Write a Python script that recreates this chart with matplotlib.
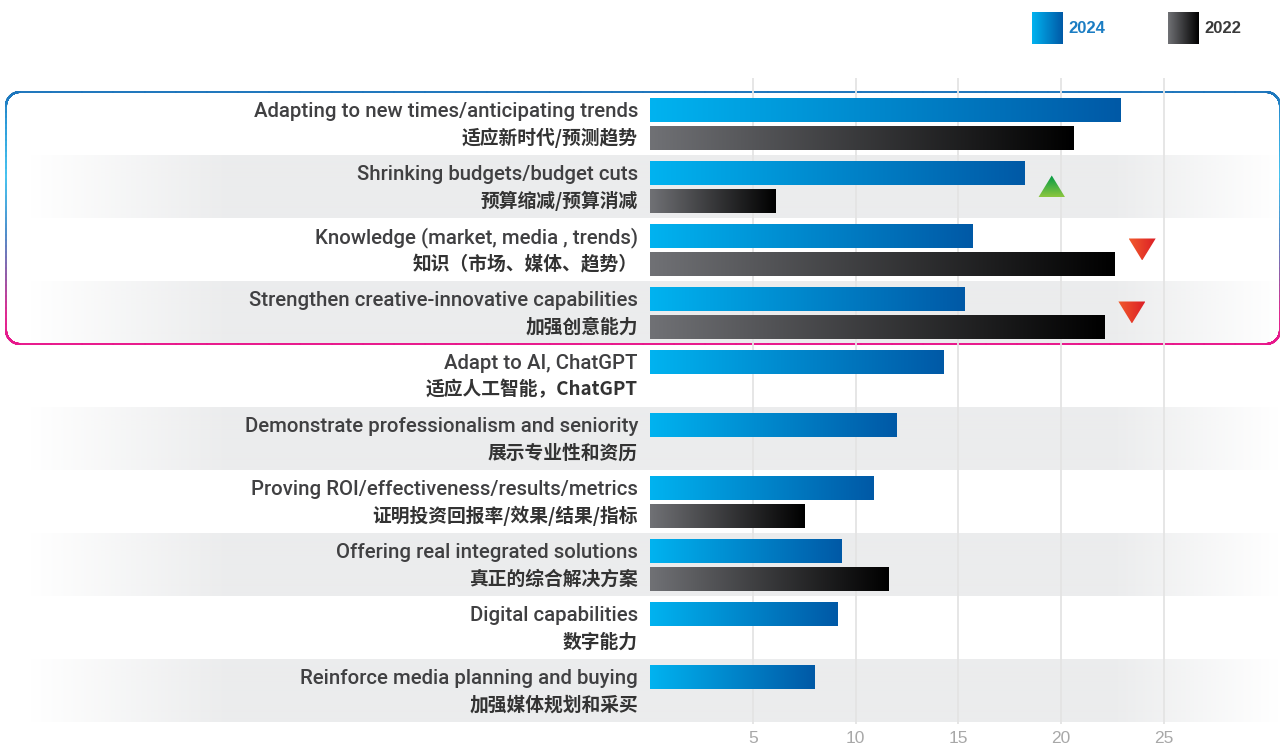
import numpy as np
import matplotlib
matplotlib.use('Agg')
import matplotlib.pyplot as plt
from matplotlib.colors import LinearSegmentedColormap, to_rgb
from matplotlib.patches import Polygon
from matplotlib.collections import LineCollection
from matplotlib.transforms import blended_transform_factory

# ---------------- data ----------------
labels_en = [
    "Adapting to new times/anticipating trends",
    "Shrinking budgets/budget cuts",
    "Knowledge (market, media , trends)",
    "Strengthen creative-innovative capabilities",
    "Adapt to AI, ChatGPT",
    "Demonstrate professionalism and seniority",
    "Proving ROI/effectiveness/results/metrics",
    "Offering real integrated solutions",
    "Digital capabilities",
    "Reinforce media planning and buying",
]
labels_zh = [
    "适应新时代/预测趋势",
    "预算缩减/预算消减",
    "知识（市场、媒体、趋势）",
    "加强创意能力",
    "适应人工智能，ChatGPT",
    "展示专业性和资历",
    "证明投资回报率/效果/结果/指标",
    "真正的综合解决方案",
    "数字能力",
    "加强媒体规划和采买",
]
v2024 = [22.9, 18.2, 15.7, 15.3, 14.3, 12.0, 10.9, 9.3, 9.1, 8.0]
v2022 = [20.6, 6.1, 22.6, 22.1, np.nan, np.nan, 7.5, 11.6, np.nan, np.nan]
series_names = ["2024", "2022"]
trend_rows = [1, 2, 3]
trend_dir = ["up", "down", "down"]
xticks = [5, 10, 15, 20, 25]

# ---------------- fonts ----------------
en_font = "Roboto"
zh_font = ["Noto Sans CJK SC", "DejaVu Sans"]

# ---------------- figure ----------------
W, H = 1280, 749
fig = plt.figure(figsize=(W / 100, H / 100), dpi=100)
fig.patch.set_facecolor("white")

n = len(labels_en)
ax_top_px, ax_bot_px = 78, 724
group_px = 63.0
first_top_px = 92
ylim = (n + (ax_bot_px - (first_top_px + n * group_px)) / group_px,
        -(first_top_px - ax_top_px) / group_px)

# background axes (full width, same vertical mapping)
bg = fig.add_axes([0, 1 - ax_bot_px / H, 1, (ax_bot_px - ax_top_px) / H], zorder=0)
bg.set_xlim(0, W)
bg.set_ylim(*ylim)
bg.axis("off")

# alternating bands with soft horizontal fades
xs = np.arange(W)
alpha_prof = np.interp(xs, [30, 230, 1110, 1278], [0, 1, 1, 0])
band_rgb = np.array(to_rgb("#ebeced"))
band_img = np.ones((1, W, 4))
band_img[..., :3] = band_rgb
band_img[..., 3] = alpha_prof
for i in range(n):
    if i % 2 == 1:
        bg.imshow(band_img, extent=(0, W, i + 1, i), aspect="auto",
                  interpolation="bilinear", zorder=1)

# highlight box around first four rows (gradient border)
box_rows = 4
x0, x1 = 6, 1280
y0, y1 = 0.0, float(box_rows)
r_px = 14
rx = r_px
ry = r_px / group_px
pts = []
def arc(cx, cy, a0, a1):
    t = np.linspace(np.radians(a0), np.radians(a1), 20)
    return list(zip(cx + rx * np.cos(t), cy - ry * np.sin(t)))
pts += [(x0 + rx, y0), (x1 - rx, y0)]
pts += arc(x1 - rx, y0 + ry, 90, 0)
pts += [(x1, y1 - ry)]
pts += arc(x1 - rx, y1 - ry, 0, -90)
pts += [(x0 + rx, y1)]
pts += arc(x0 + rx, y1 - ry, -90, -180)
pts += [(x0, y0 + ry)]
pts += arc(x0 + rx, y0 + ry, 180, 90)
pts = np.array(pts)
dense = []
for a, b in zip(pts[:-1], pts[1:]):
    for t in np.linspace(0, 1, 40, endpoint=False):
        dense.append(a + (b - a) * t)
dense.append(pts[-1])
dense = np.array(dense)
segs = np.stack([dense[:-1], dense[1:]], axis=1)
border_cmap = LinearSegmentedColormap.from_list(
    "border", [(0, "#1c75bc"), (0.12, "#2a9ad8"), (0.33, "#45c3f0"),
               (0.55, "#4a8fcb"), (0.72, "#8f5ca8"), (0.88, "#e0268f"), (1, "#e8168b")])
yc = (segs[:, 0, 1] + segs[:, 1, 1]) / 2 / box_rows
lc = LineCollection(segs, colors=border_cmap(yc), linewidths=1.4, zorder=3,
                    capstyle="round")
bg.add_collection(lc)

# ---------------- main axes ----------------
px_per_unit = 20.55
ax = fig.add_axes([650 / W, 1 - ax_bot_px / H, (W - 650) / W,
                   (ax_bot_px - ax_top_px) / H], zorder=2)
ax.patch.set_visible(False)
xlim = (0, (W - 650) / px_per_unit)

ypos = np.arange(n)
bar_h = 24 / group_px
off24 = (6 + 12) / group_px
off22 = (34 + 12) / group_px
cmap24 = LinearSegmentedColormap.from_list("c24", ["#00b3f0", "#0059a6"])
cmap22 = LinearSegmentedColormap.from_list("c22", ["#707175", "#000000"])
grad = np.linspace(0, 1, 256).reshape(1, -1)

bars24 = ax.barh(ypos + off24, v2024, height=bar_h, color="none", zorder=3)
bars22 = ax.barh(ypos + off22, np.nan_to_num(v2022), height=bar_h, color="none", zorder=3)
for bars, cm in ((bars24, cmap24), (bars22, cmap22)):
    for b in bars:
        w = b.get_width()
        if w <= 0:
            continue
        yb, hb = b.get_y(), b.get_height()
        ax.imshow(grad, cmap=cm, extent=(b.get_x(), b.get_x() + w, yb + hb, yb),
                  aspect="auto", interpolation="bilinear", zorder=3)

# trend triangles
tri_w = 27 / px_per_unit
tri_h = 22 / group_px
green_cm = LinearSegmentedColormap.from_list("g", ["#009a44", "#8cc63f"])
red_cm = LinearSegmentedColormap.from_list("r", ["#f15a2c", "#dc1f26"])
for row, d in zip(trend_rows, trend_dir):
    vals = [v2024[row], v2022[row]]
    cx = np.nanmax(vals) + 1.35
    cy = row + 0.5
    if d == "up":
        verts = [(cx - tri_w / 2, cy + tri_h / 2), (cx + tri_w / 2, cy + tri_h / 2),
                 (cx, cy - tri_h / 2)]
        img = np.linspace(0, 1, 64).reshape(-1, 1)
        cm = green_cm
    else:
        verts = [(cx - tri_w / 2, cy - tri_h / 2), (cx + tri_w / 2, cy - tri_h / 2),
                 (cx, cy + tri_h / 2)]
        img = np.linspace(0, 1, 64).reshape(1, -1)
        cm = red_cm
    poly = Polygon(verts, closed=True, facecolor="none", edgecolor="none", zorder=4)
    ax.add_patch(poly)
    im = ax.imshow(img, cmap=cm, extent=(cx - tri_w / 2, cx + tri_w / 2,
                                         cy + tri_h / 2, cy - tri_h / 2),
                   aspect="auto", interpolation="bilinear", zorder=4)
    im.set_clip_path(poly)

ax.set_xlim(*xlim)
ax.set_ylim(*ylim)
ax.set_xticks(xticks)
ax.set_xticklabels([str(t) for t in xticks], color="#a8a8a8", fontsize=12.5,
                   family="Liberation Sans")
ax.tick_params(axis="x", length=0, pad=5)
ax.set_yticks([])
ax.grid(axis="x", color="#e4e4e4", linewidth=1.3, zorder=0)
ax.set_axisbelow(True)
for s in ax.spines.values():
    s.set_visible(False)

# category labels
tr = blended_transform_factory(fig.transFigure, ax.transData)
for i in range(n):
    ax.text(638 / W, i + off24 + 0.02, labels_en[i], transform=tr, ha="right",
            va="center", fontsize=14.7, color="#404042", family=en_font,
            fontweight="medium", clip_on=False)
    ax.text(638 / W, i + off22, labels_zh[i], transform=tr, ha="right", va="center",
            fontsize=13.5, color="#333333", family=zh_font, fontweight="bold",
            clip_on=False)

# ---------------- legend ----------------
ov = fig.add_axes([0, 0, 1, 1], zorder=5)
ov.set_xlim(0, W)
ov.set_ylim(H, 0)
ov.axis("off")
ov.patch.set_visible(False)
leg = [(1032, series_names[0], cmap24, "#1b7dc3"),
       (1168, series_names[1], cmap22, "#3a3a3a")]
for lx, name, cm, tc in leg:
    ov.imshow(grad, cmap=cm, extent=(lx, lx + 31, 44, 12), aspect="auto",
              interpolation="bilinear")
    ov.text(lx + 36, 28.5, name, color=tc, fontsize=12, fontweight="bold",
            family="Liberation Sans", va="center", ha="left")
ov.set_xlim(0, W)
ov.set_ylim(H, 0)

fig.savefig("out.png", dpi=100, facecolor="white")
